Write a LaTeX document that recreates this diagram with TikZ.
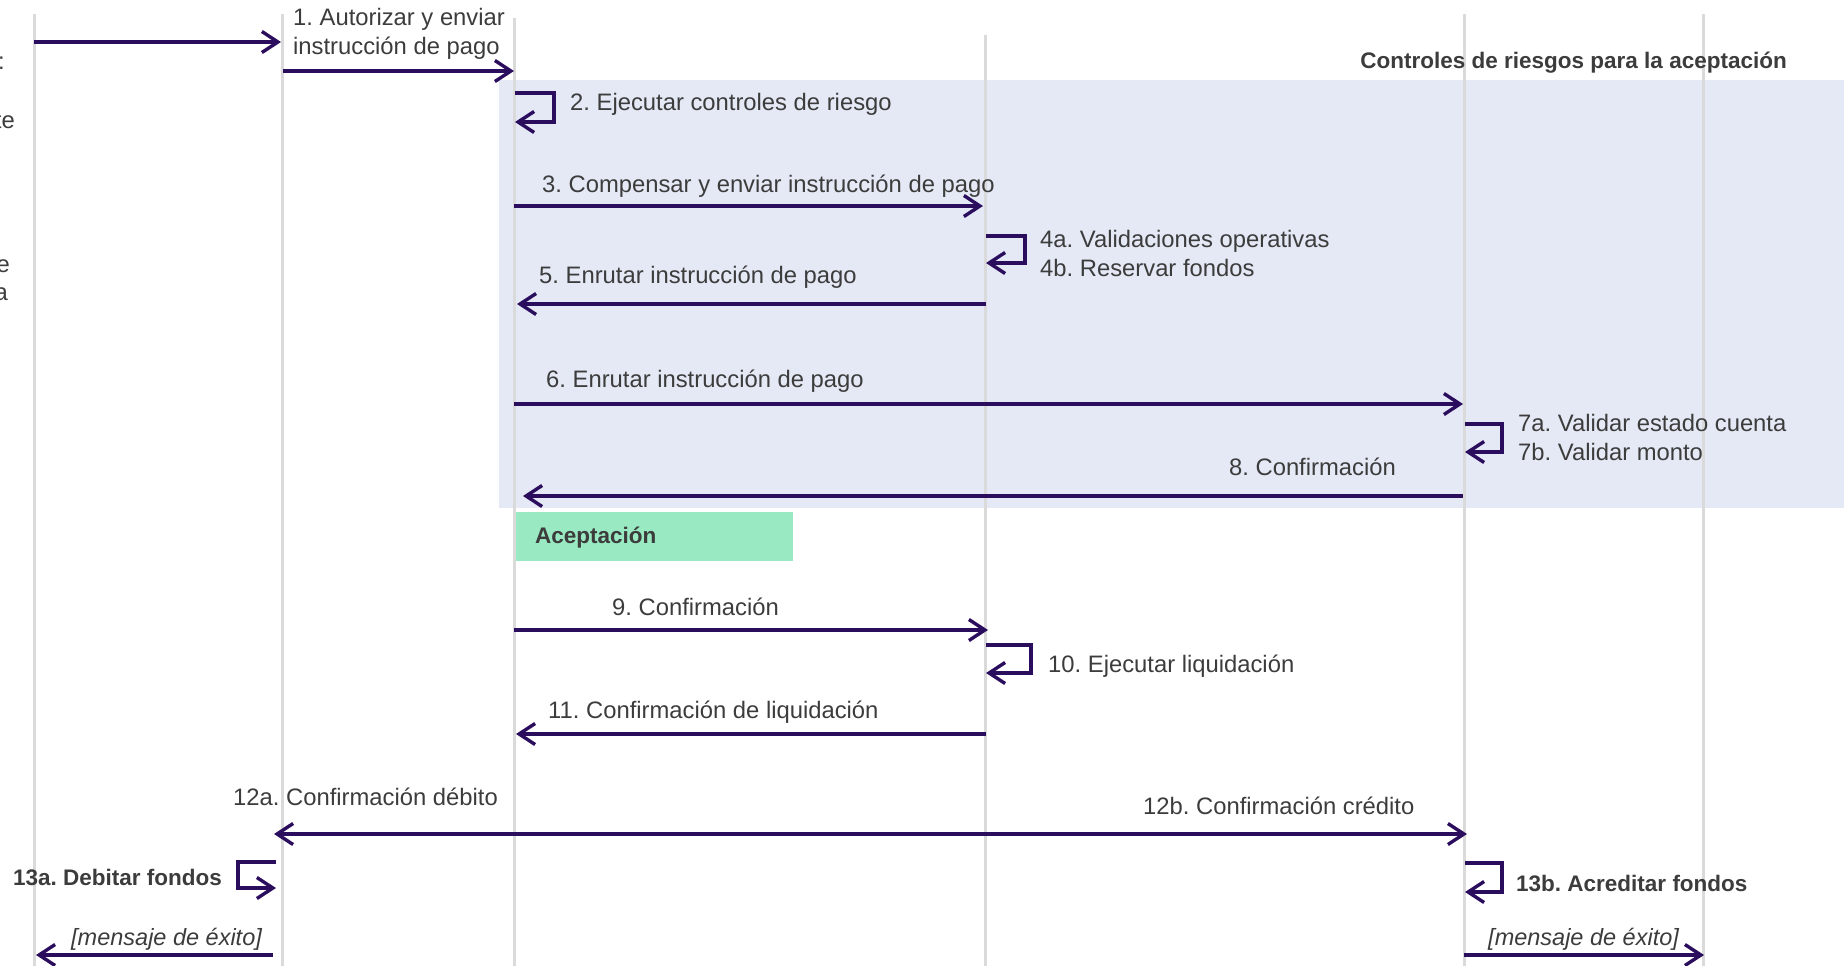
\documentclass[tikz,border=0pt]{standalone}
\usepackage{fontspec}
\setmainfont{Liberation Sans}
\usetikzlibrary{arrows.meta}
\definecolor{msgc}{HTML}{2B0D5E}
\definecolor{lifec}{HTML}{DADADA}
\definecolor{riskc}{HTML}{E4E9F5}
\definecolor{acceptc}{HTML}{99EAC2}
\definecolor{txtc}{HTML}{3C3C3C}
\frenchspacing

\begin{document}
\begin{tikzpicture}[x=1pt,y=-1pt,
    msg/.style={draw=msgc,line width=3.4pt,-{Straight Barb[length=16pt,width=21pt]}},
    life/.style={draw=lifec,line width=3pt},
    lbl/.style={inner sep=0pt,text=txtc,font=\fontsize{23.8}{29}\selectfont},
    blbl/.style={lbl,font=\fontsize{22.5}{28}\selectfont\bfseries},
    ilbl/.style={lbl,font=\fontsize{23.5}{29}\selectfont\itshape}]
  \useasboundingbox (0,0) rectangle (1844,966);

  % zona de controles
  \fill[riskc] (499,80) rectangle (1844,508);

  \path
  (34,14) coordinate(l0t) (34,966) coordinate(l0b)
  (282,14) coordinate(l1t) (282,966) coordinate(l1b)
  (514,18) coordinate(l2t) (514,966) coordinate(l2b)
  (985,35) coordinate(l3t) (985,966) coordinate(l3b)
  (1464,14) coordinate(l4t) (1464,966) coordinate(l4b)
  (1703,14) coordinate(l5t) (1703,966) coordinate(l5b)
  ;

  \draw[life] (l0t) -- (l0b);
  \draw[life] (l1t) -- (l1b);
  \draw[life] (l2t) -- (l2b);
  \draw[life] (l3t) -- (l3b);
  \draw[life] (l4t) -- (l4b);
  \draw[life] (l5t) -- (l5b);

  \fill[acceptc] (516,512) rectangle (793,561);

  \path
  (34,42) coordinate(m0a) (281,42) coordinate(m0b)
  (283,71) coordinate(m1a) (514,71) coordinate(m1b)
  (515,93) coordinate(s2a) (554,122) coordinate(s2c) (515,122) coordinate(s2b)
  (514,206) coordinate(m3a) (983,206) coordinate(m3b)
  (986,236) coordinate(s4a) (1025,263) coordinate(s4c) (986,263) coordinate(s4b)
  (986,304) coordinate(m5a) (517,304) coordinate(m5b)
  (514,404) coordinate(m6a) (1463,404) coordinate(m6b)
  (1465,424) coordinate(s7a) (1502,452) coordinate(s7c) (1465,452) coordinate(s7b)
  (1463,496) coordinate(m8a) (523,496) coordinate(m8b)
  (514,630) coordinate(m9a) (988,630) coordinate(m9b)
  (986,645) coordinate(s10a) (1031,673) coordinate(s10c) (986,673) coordinate(s10b)
  (986,734) coordinate(m11a) (516,734) coordinate(m11b)
  (514,834) coordinate(m12o) (274,834) coordinate(m12a) (1467,834) coordinate(m12b)
  (276,862) coordinate(s13a) (238,888) coordinate(s13c) (276,888) coordinate(s13b)
  (1465,863) coordinate(s13d) (1502,892) coordinate(s13f) (1465,892) coordinate(s13e)
  (273,955) coordinate(m14a) (36,955) coordinate(m14b)
  (1464,955) coordinate(m15a) (1704,955) coordinate(m15b)
  ;

  \draw[msg] (m0a) -- (m0b);
  \draw[msg] (m1a) -- (m1b);
  \draw[msg] (s2a) -| (s2c) -- (s2b);
  \draw[msg] (m3a) -- (m3b);
  \draw[msg] (s4a) -| (s4c) -- (s4b);
  \draw[msg] (m5a) -- (m5b);
  \draw[msg] (m6a) -- (m6b);
  \draw[msg] (s7a) -| (s7c) -- (s7b);
  \draw[msg] (m8a) -- (m8b);
  \draw[msg] (m9a) -- (m9b);
  \draw[msg] (s10a) -| (s10c) -- (s10b);
  \draw[msg] (m11a) -- (m11b);
  \draw[msg] (m12o) -- (m12a);
  \draw[msg] (m12o) -- (m12b);
  \draw[msg] (s13a) -| (s13c) -- (s13b);
  \draw[msg] (s13d) -| (s13f) -- (s13e);
  \draw[msg] (m14a) -- (m14b);
  \draw[msg] (m15a) -- (m15b);

  % textos
  \node[lbl,anchor=base east] (f1) at (5,70) {:};
  \node[lbl,anchor=base east] (f2) at (15,128) {te};
  \node[lbl,anchor=base east] (f3) at (10,272) {e};
  \node[lbl,anchor=base east] (f4) at (8,300) {a};
  \node[lbl,anchor=base west,align=left] (t1) at (293,55) {1. Autorizar y enviar\\instrucción de pago};
  \node[blbl,anchor=base east] (tz) at (1787,68) {Controles de riesgos para la aceptación};
  \node[lbl,anchor=base west] (t2) at (570,110) {2. Ejecutar controles de riesgo};
  \node[lbl,anchor=base west] (t3) at (542,192) {3. Compensar y enviar instrucción de pago};
  \node[lbl,anchor=base west,align=left] (t4) at (1040,276) {4a. Validaciones operativas\\4b. Reservar fondos};
  \node[lbl,anchor=base west] (t5) at (539,283) {5. Enrutar instrucción de pago};
  \node[lbl,anchor=base west] (t6) at (546,387) {6. Enrutar instrucción de pago};
  \node[lbl,anchor=base west,align=left] (t7) at (1518,460) {7a. Validar estado cuenta\\7b. Validar monto};
  \node[lbl,anchor=base east] (t8) at (1396,475) {8. Confirmación};
  \node[blbl,anchor=base west] (tacc) at (535,543) {Aceptación};
  \node[lbl,anchor=base west] (t9) at (612,615) {9. Confirmación};
  \node[lbl,anchor=base west] (t10) at (1048,672) {10. Ejecutar liquidación};
  \node[lbl,anchor=base west] (t11) at (548,718) {11. Confirmación de liquidación};
  \node[lbl,anchor=base west] (t12a) at (233,805) {12a. Confirmación débito};
  \node[lbl,anchor=base west] (t12b) at (1143,814) {12b. Confirmación crédito};
  \node[blbl,anchor=base east] (t13a) at (222,885) {13a. Debitar fondos};
  \node[blbl,anchor=base west] (t13b) at (1516,891) {13b. Acreditar fondos};
  \node[ilbl,anchor=base west] (t14) at (71,945) {[mensaje de éxito]};
  \node[ilbl,anchor=base west] (t15) at (1488,945) {[mensaje de éxito]};
\end{tikzpicture}
\end{document}
